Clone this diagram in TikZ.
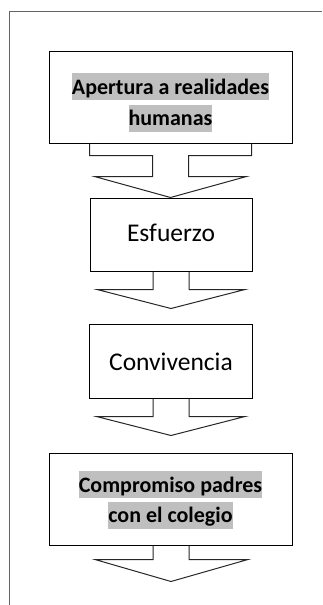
\documentclass[tikz,border=0pt]{standalone}
\usepackage{fontspec}
\setmainfont{Carlito}
\usetikzlibrary{calc}
\definecolor{hlgray}{RGB}{191,191,191}
\definecolor{framegray}{RGB}{100,100,100}
\newcommand\hlt[1]{{\setlength{\fboxsep}{0pt}\colorbox{hlgray}{\rule[-6pt]{0pt}{27pt}#1}}}
\begin{document}
\begin{tikzpicture}[x=1pt,y=-1pt,
  boxnode/.style={draw=black,line width=1pt,inner sep=0pt},
  bigtext/.style={font=\fontsize{22}{26}\selectfont\bfseries,inner sep=0pt},
  plaintext/.style={font=\fontsize{25.5}{30}\selectfont,inner sep=0pt},
  blockarrow/.style={draw=black!85,line width=1pt,line join=miter}]
\useasboundingbox (0,0) rectangle (322,605);
\draw[framegray,line width=1pt] (9,605) -- (9,11) -- (322,11);
% boxes
\node[boxnode,minimum width=243pt,minimum height=92pt] (b1) at (170.5,97) {};
\node[boxnode,minimum width=162pt,minimum height=73pt] (b2) at (171,234.5) {};
\node[boxnode,minimum width=163pt,minimum height=74pt] (b3) at (170.5,361) {};
\node[boxnode,minimum width=243pt,minimum height=92pt] (b4) at (170.5,499) {};
% texts
\node[bigtext] (t1a) at (170.5,86.5) {\hlt{Apertura a realidades}};
\node[bigtext] (t1b) at (170.5,118) {\hlt{humanas}};
\node[plaintext] (t2) at (171,233) {Esfuerzo};
\node[plaintext] (t3) at (171,362) {Convivencia};
\node[bigtext] (t4a) at (170.5,484.5) {\hlt{Compromiso padres}};
\node[bigtext] (t4b) at (170.5,515) {\hlt{con el colegio}};
% arrows
\draw[blockarrow] ($(b1.south)+(-81,0)$) -- ++(0,12) -- ++(63,0) -- ++(0,21)
  -- ++(-58,0) -- ($(b1.south)+(0,54)$) -- ($(b1.south)+(76,33)$) -- ++(-58,0)
  -- ++(0,-21) -- ++(63,0) -- ++(0,-12);
\draw[blockarrow] ($(b2.south)+(-18,0)$) -- ++(0,18) -- ++(-56,0)
  -- ($(b2.south)+(0,37)$) -- ($(b2.south)+(74,18)$) -- ++(-56,0) -- ++(0,-18);
\draw[blockarrow] ($(b3.south)+(-17.5,0)$) -- ++(0,18) -- ++(-56.5,0)
  -- ($(b3.south)+(0.5,37)$) -- ($(b3.south)+(74.5,18)$) -- ++(-56,0) -- ++(0,-18);
\draw[blockarrow] ($(b4.south)+(-17.5,0)$) -- ++(0,14) -- ++(-58,0)
  -- ($(b4.south)+(0.5,36)$) -- ($(b4.south)+(77.5,14)$) -- ++(-59,0) -- ++(0,-14);
\end{tikzpicture}
\end{document}
